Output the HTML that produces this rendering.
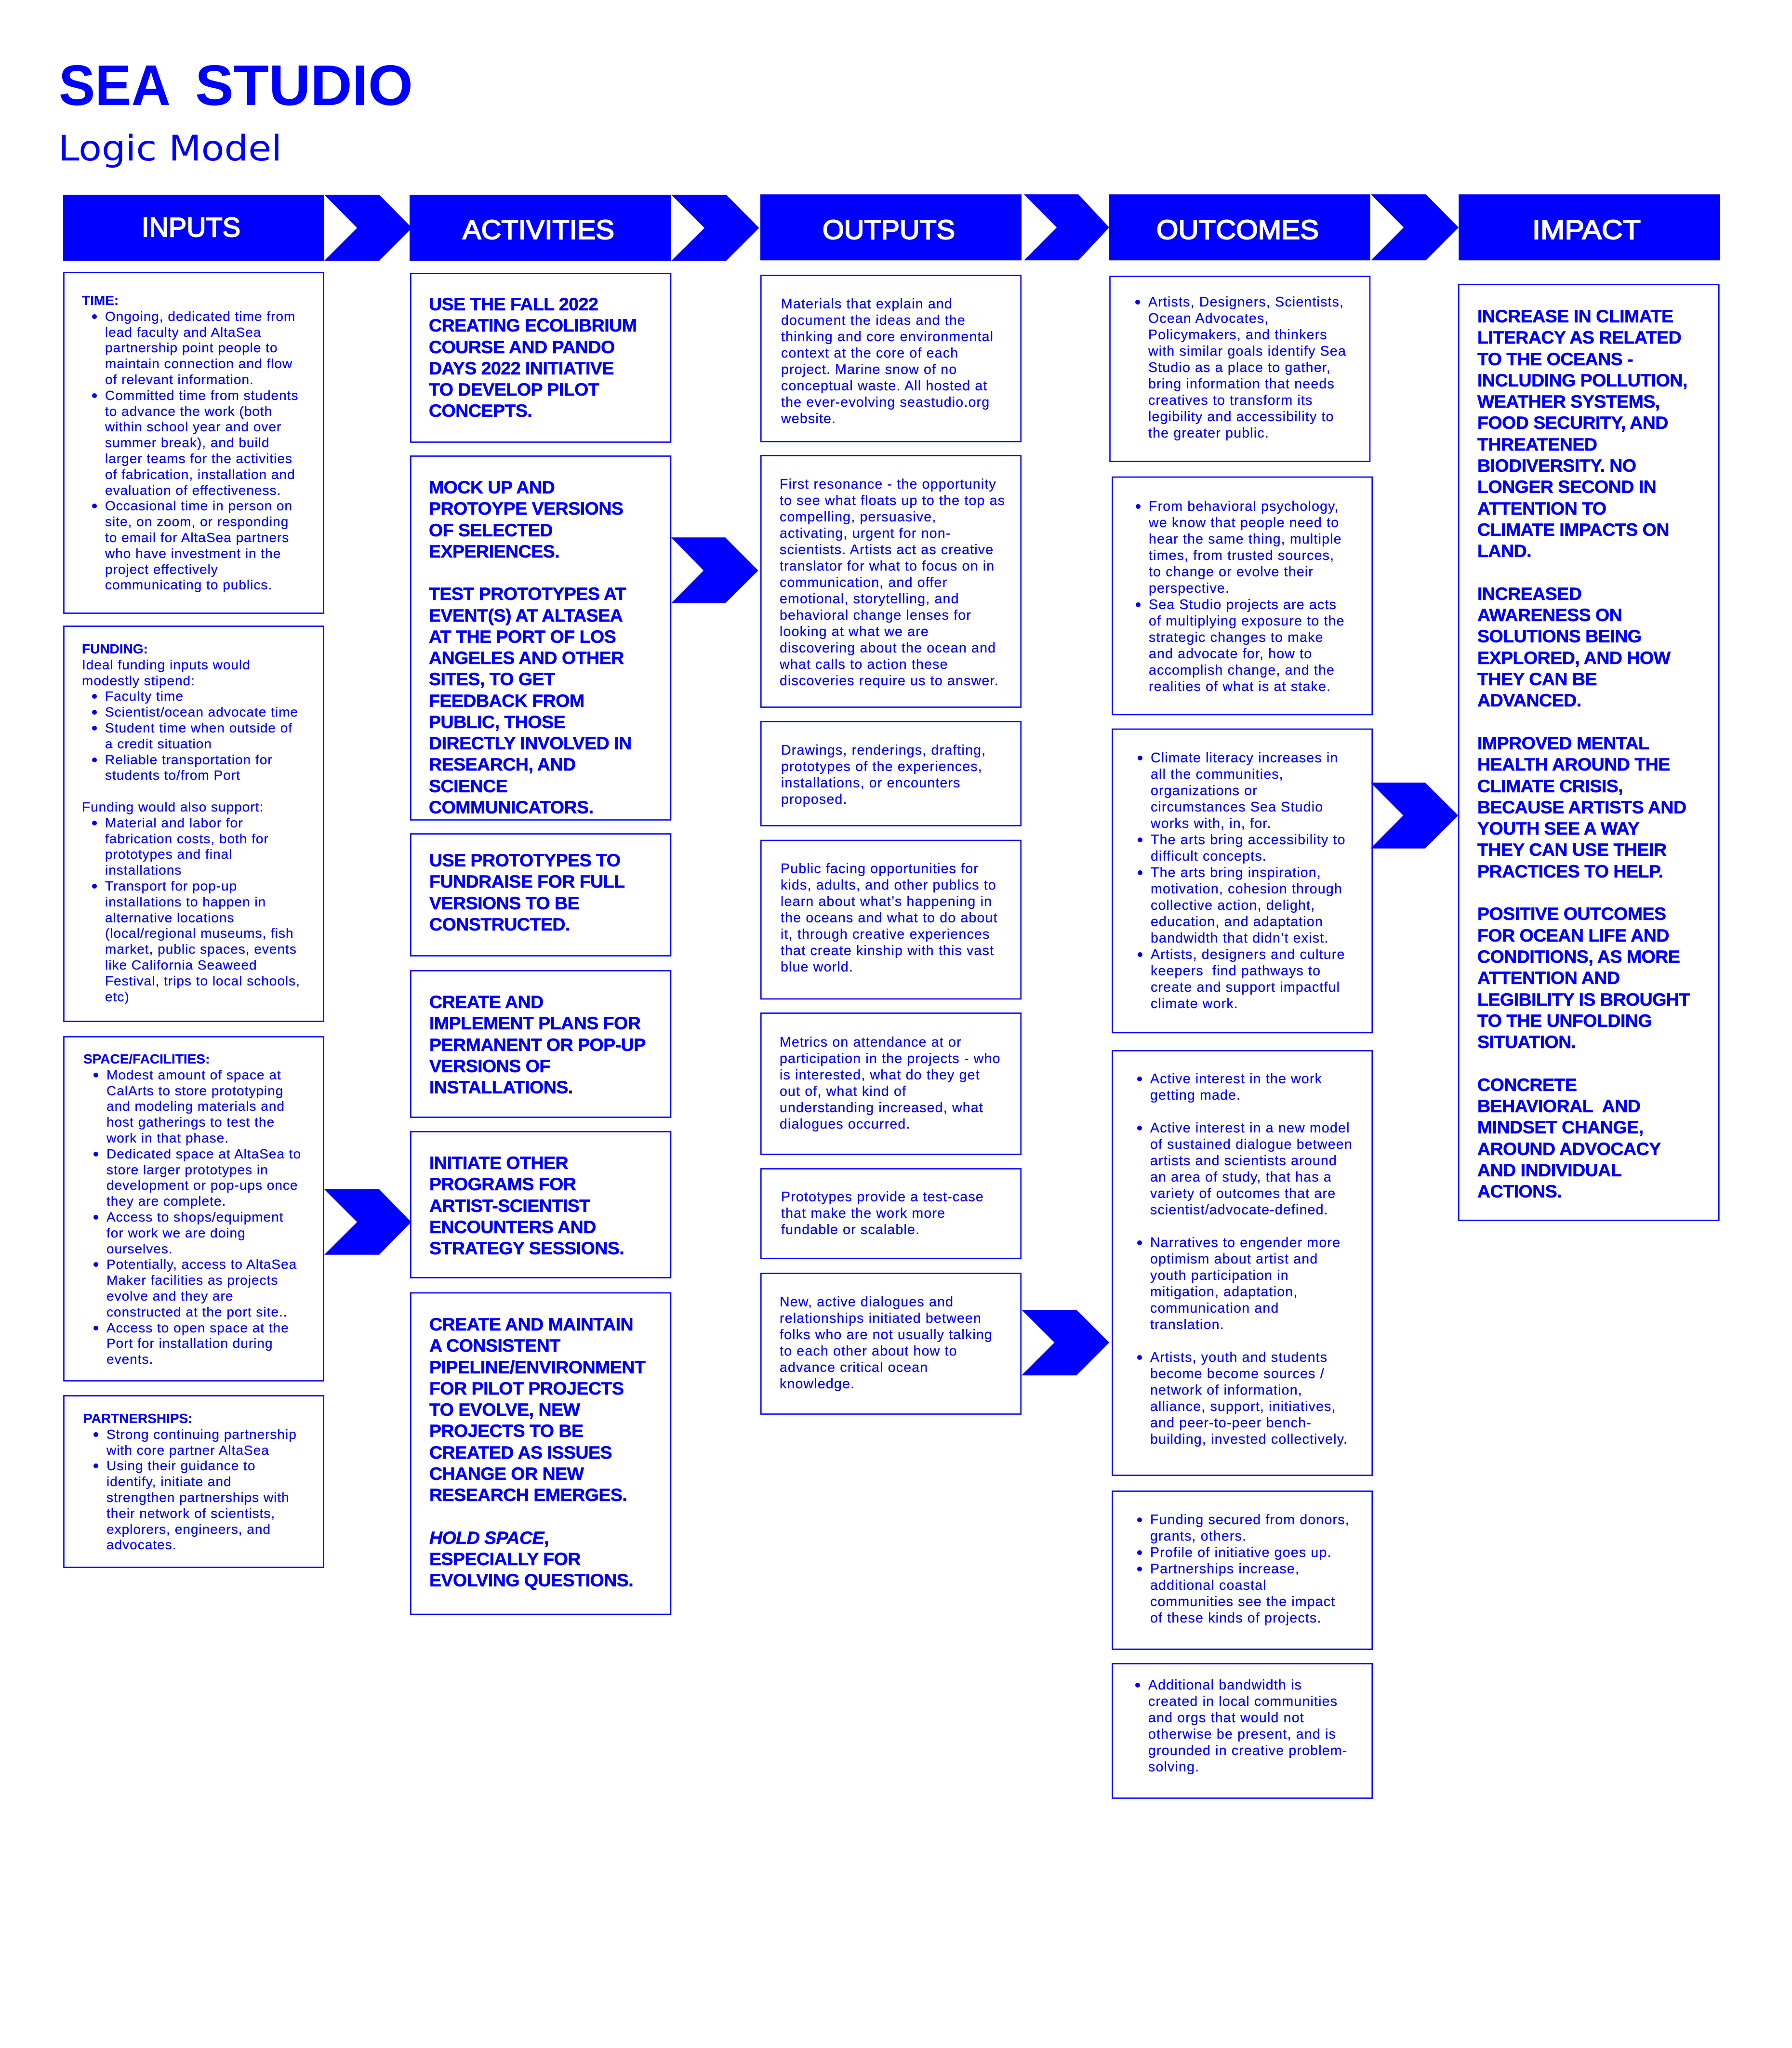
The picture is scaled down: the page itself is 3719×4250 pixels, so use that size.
<!DOCTYPE html>
<html lang="en"><head><meta charset="utf-8"><title>Sea Studio Logic Model</title>
<style>
html,body{margin:0;padding:0;background:#fff}
#p{position:relative;width:3719px;height:4250px;overflow:hidden;background:#fff;color:#00f;font-family:"Liberation Sans",sans-serif}
svg{position:absolute;left:0;top:0}
.t{position:absolute;white-space:nowrap}
.s{font-size:28px;line-height:32.8px;letter-spacing:1px;-webkit-text-stroke:.25px #00f}
.m{font-size:28.5px;line-height:34px;letter-spacing:1.2px;-webkit-text-stroke:.25px #00f}
.s b,.m b{letter-spacing:0}
.h{font-size:37.5px;line-height:44.25px;font-weight:700;letter-spacing:-.5px;-webkit-text-stroke:.6px #00f}
.b{position:relative;margin-left:48px}
.m .b{margin-left:0}
.b::before{content:"";position:absolute;left:-27px;top:11px;width:10px;height:10px;border-radius:50%;background:#00f}
.m .b::before{top:12px}
.g{height:34px}
.gs{height:32.8px}
</style></head><body><div id="p">
<svg width="3719" height="4250" viewBox="0 0 3719 4250" xmlns="http://www.w3.org/2000/svg">
<g fill="#00f">
<rect x="131" y="404.300" width="542" height="137"/><rect x="850" y="404.300" width="542.500" height="137"/><rect x="1578" y="403.300" width="542" height="137"/><rect x="2302" y="403.300" width="541.700" height="137"/><rect x="3027.300" y="403.300" width="542.700" height="137"/>
<polygon points="673,404.300 787,404.300 855,473 787,541 673,541 741,473"/>
<polygon points="1393.300,404.300 1507.300,404.300 1575.300,473 1507.300,541 1393.300,541 1462,473"/>
<polygon points="2125,403.300 2238,403.300 2302,472 2238,540.300 2125,540.300 2193,472"/>
<polygon points="2845,403.300 2959,403.300 3027,472 2959,540.300 2845,540.300 2913,472"/>
<polygon points="673,2468 787,2468 853.300,2536 787,2603.700 673,2603.700 741,2536"/>
<polygon points="1393,1115.300 1505.300,1115.300 1573.700,1184 1505.300,1251.700 1393,1251.700 1460,1184"/>
<polygon points="2120,2718 2234,2718 2302,2786 2234,2854.300 2120,2854.300 2188.300,2786"/>
<polygon points="2844.300,1624 2957.700,1624 3026.300,1692.300 2957.700,1760.700 2844.300,1760.700 2912.300,1692.300"/>
</g>
<g fill="none" stroke="#00f" stroke-width="2.600">
<rect x="132.500" y="565.500" width="539.200" height="707"/><rect x="132.500" y="1299.500" width="539.200" height="820"/><rect x="132.500" y="2151.500" width="539.200" height="714"/><rect x="132.500" y="2896.500" width="539.200" height="356"/>
<rect x="852.400" y="567.500" width="539.600" height="350"/><rect x="852.400" y="946.500" width="539.600" height="755"/><rect x="852.400" y="1730.500" width="539.600" height="253"/><rect x="852.400" y="2014.500" width="539.600" height="304"/><rect x="852.400" y="2348.500" width="539.600" height="303"/><rect x="852.400" y="2683" width="539.600" height="667"/>
<rect x="1579.300" y="571.500" width="539.400" height="345"/><rect x="1579.300" y="945.500" width="539.400" height="522"/><rect x="1579.300" y="1497.500" width="539.400" height="216"/><rect x="1579.300" y="1744" width="539.400" height="329"/><rect x="1579.300" y="2102.500" width="539.400" height="293"/><rect x="1579.300" y="2425.500" width="539.400" height="186"/><rect x="1579.300" y="2642.500" width="539.400" height="292"/>
<rect x="2303.500" y="573.500" width="539.500" height="384"/><rect x="2308.500" y="990" width="539.200" height="493"/><rect x="2308.500" y="1513" width="539.200" height="630"/><rect x="2308.500" y="2180.500" width="539.200" height="881"/><rect x="2308.500" y="3094.500" width="539.200" height="328"/><rect x="2308.500" y="3452.500" width="539.200" height="279"/>
<rect x="3027.300" y="590.500" width="540" height="1942"/>
</g>
<g font-family="Liberation Sans, sans-serif" fill="#00f" font-weight="700" font-size="119">
<text x="122" y="218" textLength="232" lengthAdjust="spacingAndGlyphs">SEA</text>
<text x="405" y="218" textLength="452" lengthAdjust="spacingAndGlyphs">STUDIO</text>
</g>
<text x="121" y="333" font-family="DejaVu Sans, sans-serif" font-size="73" fill="#00f" textLength="464" lengthAdjust="spacingAndGlyphs">Logic Model</text>
<g font-family="Liberation Sans, sans-serif" fill="#fff" stroke="#fff" stroke-width="2" font-size="57">
<text x="294" y="491" textLength="205" lengthAdjust="spacingAndGlyphs">INPUTS</text>
<text x="960" y="496" textLength="315" lengthAdjust="spacingAndGlyphs">ACTIVITIES</text>
<text x="1707" y="496" textLength="275" lengthAdjust="spacingAndGlyphs">OUTPUTS</text>
<text x="2400" y="496" textLength="337" lengthAdjust="spacingAndGlyphs">OUTCOMES</text>
<text x="3180" y="496" textLength="225" lengthAdjust="spacingAndGlyphs">IMPACT</text>
</g>
</svg>

<div class="t s" style="left:170px;top:608px"><b>TIME:</b>
<div class="b">Ongoing, dedicated time from<br>lead faculty and AltaSea<br>partnership point people to<br>maintain connection and flow<br>of relevant information.</div>
<div class="b">Committed time from students<br>to advance the work (both<br>within school year and over<br>summer break), and build<br>larger teams for the activities<br>of fabrication, installation and<br>evaluation of effectiveness.</div>
<div class="b">Occasional time in person on<br>site, on zoom, or responding<br>to email for AltaSea partners<br>who have investment in the<br>project effectively<br>communicating to publics.</div></div>

<div class="t s" style="left:170px;top:1331px"><b>FUNDING:</b><br>Ideal funding inputs would<br>modestly stipend:
<div class="b">Faculty time</div>
<div class="b">Scientist/ocean advocate time</div>
<div class="b">Student time when outside of<br>a credit situation</div>
<div class="b">Reliable transportation for<br>students to/from Port</div>
<div class="gs"></div>Funding would also support:
<div class="b">Material and labor for<br>fabrication costs, both for<br>prototypes and final<br>installations</div>
<div class="b">Transport for pop-up<br>installations to happen in<br>alternative locations<br>(local/regional museums, fish<br>market, public spaces, events<br>like California Seaweed<br>Festival, trips to local schools,<br>etc)</div></div>

<div class="t s" style="left:173px;top:2182px"><b>SPACE/FACILITIES:</b>
<div class="b">Modest amount of space at<br>CalArts to store prototyping<br>and modeling materials and<br>host gatherings to test the<br>work in that phase.</div>
<div class="b">Dedicated space at AltaSea to<br>store larger prototypes in<br>development or pop-ups once<br>they are complete.</div>
<div class="b">Access to shops/equipment<br>for work we are doing<br>ourselves.</div>
<div class="b">Potentially, access to AltaSea<br>Maker facilities as projects<br>evolve and they are<br>constructed at the port site..</div>
<div class="b">Access to open space at the<br>Port for installation during<br>events.</div></div>

<div class="t s" style="left:173px;top:2928px"><b>PARTNERSHIPS:</b>
<div class="b">Strong continuing partnership<br>with core partner AltaSea</div>
<div class="b">Using their guidance to<br>identify, initiate and<br>strengthen partnerships with<br>their network of scientists,<br>explorers, engineers, and<br>advocates.</div></div>

<div class="t h" style="left:890px;top:609px">USE THE FALL 2022<br>CREATING ECOLIBRIUM<br>COURSE AND PANDO<br>DAYS 2022 INITIATIVE<br>TO DEVELOP PILOT<br>CONCEPTS.</div>
<div class="t h" style="left:890px;top:989px">MOCK UP AND<br>PROTOYPE VERSIONS<br>OF SELECTED<br>EXPERIENCES.<br><br>TEST PROTOTYPES AT<br>EVENT(S) AT ALTASEA<br>AT THE PORT OF LOS<br>ANGELES AND OTHER<br>SITES, TO GET<br>FEEDBACK FROM<br>PUBLIC, THOSE<br>DIRECTLY INVOLVED IN<br>RESEARCH, AND<br>SCIENCE<br>COMMUNICATORS.</div>
<div class="t h" style="left:891px;top:1763px">USE PROTOTYPES TO<br>FUNDRAISE FOR FULL<br>VERSIONS TO BE<br>CONSTRUCTED.</div>
<div class="t h" style="left:891px;top:2057px">CREATE AND<br>IMPLEMENT PLANS FOR<br>PERMANENT OR POP-UP<br>VERSIONS OF<br>INSTALLATIONS.</div>
<div class="t h" style="left:891px;top:2391px">INITIATE OTHER<br>PROGRAMS FOR<br>ARTIST-SCIENTIST<br>ENCOUNTERS AND<br>STRATEGY SESSIONS.</div>
<div class="t h" style="left:891px;top:2726px">CREATE AND MAINTAIN<br>A CONSISTENT<br>PIPELINE/ENVIRONMENT<br>FOR PILOT PROJECTS<br>TO EVOLVE, NEW<br>PROJECTS TO BE<br>CREATED AS ISSUES<br>CHANGE OR NEW<br>RESEARCH EMERGES.<br><br><i>HOLD SPACE</i>,<br>ESPECIALLY FOR<br>EVOLVING QUESTIONS.</div>

<div class="t m" style="left:1621px;top:614px">Materials that explain and<br>document the ideas and the<br>thinking and core environmental<br>context at the core of each<br>project. Marine snow of no<br>conceptual waste. All hosted at<br>the ever-evolving seastudio.org<br>website.</div>
<div class="t m" style="left:1618px;top:988px">First resonance - the opportunity<br>to see what floats up to the top as<br>compelling, persuasive,<br>activating, urgent for non-<br>scientists. Artists act as creative<br>translator for what to focus on in<br>communication, and offer<br>emotional, storytelling, and<br>behavioral change lenses for<br>looking at what we are<br>discovering about the ocean and<br>what calls to action these<br>discoveries require us to answer.</div>
<div class="t m" style="left:1621px;top:1540px">Drawings, renderings, drafting,<br>prototypes of the experiences,<br>installations, or encounters<br>proposed.</div>
<div class="t m" style="left:1620px;top:1786px">Public facing opportunities for<br>kids, adults, and other publics to<br>learn about what’s happening in<br>the oceans and what to do about<br>it, through creative experiences<br>that create kinship with this vast<br>blue world.</div>
<div class="t m" style="left:1618px;top:2146px">Metrics on attendance at or<br>participation in the projects - who<br>is interested, what do they get<br>out of, what kind of<br>understanding increased, what<br>dialogues occurred.</div>
<div class="t m" style="left:1621px;top:2467px">Prototypes provide a test-case<br>that make the work more<br>fundable or scalable.</div>
<div class="t m" style="left:1618px;top:2685px">New, active dialogues and<br>relationships initiated between<br>folks who are not usually talking<br>to each other about how to<br>advance critical ocean<br>knowledge.</div>

<div class="t m" style="left:2383px;top:610px"><div class="b">Artists, Designers, Scientists,<br>Ocean Advocates,<br>Policymakers, and thinkers<br>with similar goals identify Sea<br>Studio as a place to gather,<br>bring information that needs<br>creatives to transform its<br>legibility and accessibility to<br>the greater public.</div></div>
<div class="t m" style="left:2384px;top:1034px"><div class="b">From behavioral psychology,<br>we know that people need to<br>hear the same thing, multiple<br>times, from trusted sources,<br>to change or evolve their<br>perspective.</div><div class="b">Sea Studio projects are acts<br>of multiplying exposure to the<br>strategic changes to make<br>and advocate for, how to<br>accomplish change, and the<br>realities of what is at stake.</div></div>
<div class="t m" style="left:2388px;top:1556px"><div class="b">Climate literacy increases in<br>all the communities,<br>organizations or<br>circumstances Sea Studio<br>works with, in, for.</div><div class="b">The arts bring accessibility to<br>difficult concepts.</div><div class="b">The arts bring inspiration,<br>motivation, cohesion through<br>collective action, delight,<br>education, and adaptation<br>bandwidth that didn’t exist.</div><div class="b">Artists, designers and culture<br>keepers&nbsp; find pathways to<br>create and support impactful<br>climate work.</div></div>
<div class="t m" style="left:2387px;top:2222px"><div class="b">Active interest in the work<br>getting made.</div><div class="g"></div><div class="b">Active interest in a new model<br>of sustained dialogue between<br>artists and scientists around<br>an area of study, that has a<br>variety of outcomes that are<br>scientist/advocate-defined.</div><div class="g"></div><div class="b">Narratives to engender more<br>optimism about artist and<br>youth participation in<br>mitigation, adaptation,<br>communication and<br>translation.</div><div class="g"></div><div class="b">Artists, youth and students<br>become become sources /<br>network of information,<br>alliance, support, initiatives,<br>and peer-to-peer bench-<br>building, invested collectively.</div></div>
<div class="t m" style="left:2387px;top:3137px"><div class="b">Funding secured from donors,<br>grants, others.</div><div class="b">Profile of initiative goes up.</div><div class="b">Partnerships increase,<br>additional coastal<br>communities see the impact<br>of these kinds of projects.</div></div>
<div class="t m" style="left:2383px;top:3480px"><div class="b">Additional bandwidth is<br>created in local communities<br>and orgs that would not<br>otherwise be present, and is<br>grounded in creative problem-<br>solving.</div></div>

<div class="t h" style="left:3066px;top:634px;line-height:44.3px">INCREASE IN CLIMATE<br>LITERACY AS RELATED<br>TO THE OCEANS -<br>INCLUDING POLLUTION,<br>WEATHER SYSTEMS,<br>FOOD SECURITY, AND<br>THREATENED<br>BIODIVERSITY. NO<br>LONGER SECOND IN<br>ATTENTION TO<br>CLIMATE IMPACTS ON<br>LAND.<br><br>INCREASED<br>AWARENESS ON<br>SOLUTIONS BEING<br>EXPLORED, AND HOW<br>THEY CAN BE<br>ADVANCED.<br><br>IMPROVED MENTAL<br>HEALTH AROUND THE<br>CLIMATE CRISIS,<br>BECAUSE ARTISTS AND<br>YOUTH SEE A WAY<br>THEY CAN USE THEIR<br>PRACTICES TO HELP.<br><br>POSITIVE OUTCOMES<br>FOR OCEAN LIFE AND<br>CONDITIONS, AS MORE<br>ATTENTION AND<br>LEGIBILITY IS BROUGHT<br>TO THE UNFOLDING<br>SITUATION.<br><br>CONCRETE<br>BEHAVIORAL&nbsp; AND<br>MINDSET CHANGE,<br>AROUND ADVOCACY<br>AND INDIVIDUAL<br>ACTIONS.</div>
</div></body></html>
